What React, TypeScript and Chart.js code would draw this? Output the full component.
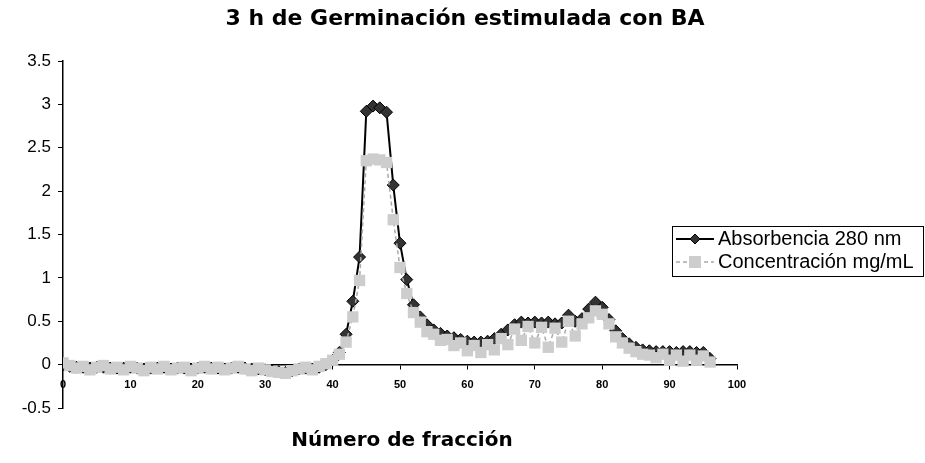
import React, { useEffect, useRef } from "react";
import { Chart, registerables } from "chart.js";

Chart.register(...registerables);

const chartTitle = "3 h de Germinación estimulada con BA";
const xAxisTitle = "Número de fracción";
const seriesNames = ["Absorbencia 280 nm", "Concentración mg/mL"];

const fractions = [
  0, 1, 2, 3, 4, 5, 6, 7, 8, 9, 10, 11, 12, 13, 14, 15, 16, 17, 18, 19,
  20, 21, 22, 23, 24, 25, 26, 27, 28, 29, 30, 31, 32, 33, 34, 35, 36, 37, 38, 39,
  40, 41, 42, 43, 44, 45, 46, 47, 48, 49, 50, 51, 52, 53, 54, 55, 56, 57, 58, 59,
  60, 61, 62, 63, 64, 65, 66, 67, 68, 69, 70, 71, 72, 73, 74, 75, 76, 77, 78, 79,
  80, 81, 82, 83, 84, 85, 86, 87, 88, 89, 90, 91, 92, 93, 94, 95, 96,
];

const absorbance = [
  0.0, -0.02, -0.03, -0.03, -0.04, -0.03, -0.03, -0.04, -0.04, -0.04,
  -0.03, -0.04, -0.05, -0.04, -0.04, -0.03, -0.05, -0.04, -0.04, -0.05,
  -0.04, -0.03, -0.04, -0.04, -0.05, -0.04, -0.03, -0.04, -0.05, -0.05,
  -0.06, -0.07, -0.08, -0.09, -0.07, -0.05, -0.04, -0.05, -0.03, 0.0,
  0.05, 0.14, 0.35, 0.73, 1.24, 2.92, 2.98, 2.96, 2.91, 2.07,
  1.4, 0.98, 0.69, 0.55, 0.46, 0.4, 0.36, 0.33, 0.31, 0.29,
  0.27, 0.26, 0.26, 0.27, 0.3, 0.35, 0.4, 0.46, 0.49, 0.48,
  0.49, 0.48, 0.49, 0.47, 0.48, 0.57, 0.5, 0.53, 0.64, 0.72,
  0.66, 0.52, 0.39, 0.3, 0.24, 0.2, 0.17, 0.16, 0.15, 0.15,
  0.15, 0.14, 0.15, 0.15, 0.14, 0.14, 0.07,
];

const concentration = [
  0.02, -0.01, -0.04, -0.02, -0.06, -0.03, -0.01, -0.05, -0.03, -0.06,
  -0.02, -0.04, -0.07, -0.03, -0.05, -0.02, -0.06, -0.04, -0.03, -0.07,
  -0.04, -0.02, -0.05, -0.03, -0.06, -0.04, -0.02, -0.05, -0.07, -0.04,
  -0.06, -0.08, -0.09, -0.1, -0.07, -0.05, -0.03, -0.06, -0.02, 0.01,
  0.05, 0.12, 0.26, 0.55, 0.97, 2.35, 2.37, 2.36, 2.33, 1.67,
  1.12, 0.82, 0.6, 0.49, 0.38, 0.35, 0.28, 0.29, 0.22, 0.25,
  0.16, 0.22, 0.14, 0.23, 0.17, 0.3, 0.23, 0.41, 0.28, 0.44,
  0.25, 0.43, 0.2, 0.42, 0.26, 0.5, 0.33, 0.47, 0.54, 0.62,
  0.58, 0.47, 0.32, 0.25, 0.19, 0.15, 0.12, 0.11, 0.08, 0.12,
  0.05, 0.11, 0.04, 0.11, 0.05, 0.1, 0.03,
];

const xTickValues = [0, 10, 20, 30, 40, 50, 60, 70, 80, 90, 100];
const yTickValues = [-0.5, 0, 0.5, 1, 1.5, 2, 2.5, 3, 3.5];

const BLACK = "#000000";
const GREY_FILL = "#cdcdcd";
const GREY_LINE = "#a9a9a9";

export default function App() {
  const canvasRef = useRef<HTMLCanvasElement | null>(null);

  useEffect(() => {
    document.body.style.margin = "0";
    const canvas = canvasRef.current;
    if (!canvas) return;

    const drawDiamond = (ctx: CanvasRenderingContext2D, x: number, y: number, r: number) => {
      ctx.beginPath();
      ctx.moveTo(x, y - r);
      ctx.lineTo(x + r, y);
      ctx.lineTo(x, y + r);
      ctx.lineTo(x - r, y);
      ctx.closePath();
      ctx.fillStyle = "#333333";
      ctx.fill();
      ctx.strokeStyle = BLACK;
      ctx.lineWidth = 1;
      ctx.stroke();
    };

    const decorations = {
      id: "decorations",
      afterDraw(chart: any) {
        const ctx: CanvasRenderingContext2D = chart.ctx;
        ctx.save();
        ctx.fillStyle = BLACK;
        ctx.textAlign = "center";
        ctx.textBaseline = "middle";
        ctx.font = 'bold 22px "DejaVu Sans"';
        ctx.fillText(chartTitle, 465, 19);
        ctx.font = 'bold 20px "DejaVu Sans"';
        ctx.fillText(xAxisTitle, 402, 441);

        const lx = 672.5, ly = 226.5, lw = 251, lh = 50;
        ctx.fillStyle = "#ffffff";
        ctx.fillRect(lx, ly, lw, lh);
        ctx.strokeStyle = BLACK;
        ctx.lineWidth = 1;
        ctx.strokeRect(lx, ly, lw, lh);

        const row1 = 239, row2 = 262;
        ctx.beginPath();
        ctx.moveTo(676, row1);
        ctx.lineTo(714, row1);
        ctx.strokeStyle = BLACK;
        ctx.lineWidth = 2;
        ctx.stroke();
        drawDiamond(ctx, 695, row1, 5);

        ctx.beginPath();
        ctx.setLineDash([4, 3]);
        ctx.moveTo(676, row2);
        ctx.lineTo(714, row2);
        ctx.strokeStyle = GREY_LINE;
        ctx.lineWidth = 1.5;
        ctx.stroke();
        ctx.setLineDash([]);
        ctx.fillStyle = GREY_FILL;
        ctx.fillRect(689, row2 - 6, 12, 12);

        ctx.fillStyle = BLACK;
        ctx.textAlign = "left";
        ctx.textBaseline = "middle";
        ctx.font = '20px "Liberation Sans"';
        ctx.fillText(seriesNames[0], 718, row1);
        ctx.fillText(seriesNames[1], 718, row2);
        ctx.restore();
      },
    };

    const chart = new Chart(canvas, {
      type: "line",
      data: {
        datasets: [
          {
            label: seriesNames[1],
            data: fractions.map((f, i) => ({ x: f, y: concentration[i] })),
            borderColor: GREY_LINE,
            borderWidth: 1.5,
            borderDash: [4, 3],
            pointStyle: "rect",
            pointRadius: 8,
            pointBackgroundColor: GREY_FILL,
            pointBorderColor: GREY_FILL,
            pointBorderWidth: 0,
            tension: 0,
            order: 0,
          },
          {
            label: seriesNames[0],
            data: fractions.map((f, i) => ({ x: f, y: absorbance[i] })),
            borderColor: BLACK,
            borderWidth: 2,
            pointStyle: "rectRot",
            pointRadius: 6,
            pointBackgroundColor: "#333333",
            pointBorderColor: BLACK,
            pointBorderWidth: 1,
            tension: 0,
            order: 1,
          },
        ],
      },
      options: {
        responsive: false,
        animation: false,
        layout: { padding: { left: 0, top: 61, right: 188, bottom: 55 } },
        plugins: {
          legend: { display: false },
          title: { display: false },
          tooltip: { enabled: false },
        },
        scales: {
          x: {
            type: "linear",
            min: 0,
            max: 100,
            position: { y: 0 } as any,
            afterBuildTicks: (scale: any) => {
              scale.ticks = xTickValues.map((v) => ({ value: v }));
            },
            ticks: {
              color: BLACK,
              font: { family: "Liberation Sans", size: 11, weight: "bold" },
              padding: 10,
              maxRotation: 0,
              autoSkip: false,
              callback: (v: any) => String(v),
            },
            grid: {
              drawOnChartArea: false,
              drawTicks: true,
              tickLength: 4,
              color: BLACK,
            },
            border: { display: true, color: BLACK, width: 1.5 },
          },
          y: {
            type: "linear",
            min: -0.5,
            max: 3.5,
            afterBuildTicks: (scale: any) => {
              scale.ticks = yTickValues.map((v) => ({ value: v }));
            },
            afterFit: (scale: any) => {
              scale.width = 63;
            },
            ticks: {
              color: BLACK,
              font: { family: "Liberation Sans", size: 17 },
              padding: 7,
              autoSkip: false,
              callback: (v: any) => String(v),
            },
            grid: {
              drawOnChartArea: false,
              drawTicks: true,
              tickLength: 5,
              color: BLACK,
            },
            border: { display: true, color: BLACK, width: 1.5 },
          },
        },
      },
      plugins: [decorations],
    });

    return () => chart.destroy();
  }, []);

  return (
    <div style={{ width: 925, height: 463 }}>
      <canvas ref={canvasRef} width={925} height={463} style={{ display: "block" }} />
    </div>
  );
}
